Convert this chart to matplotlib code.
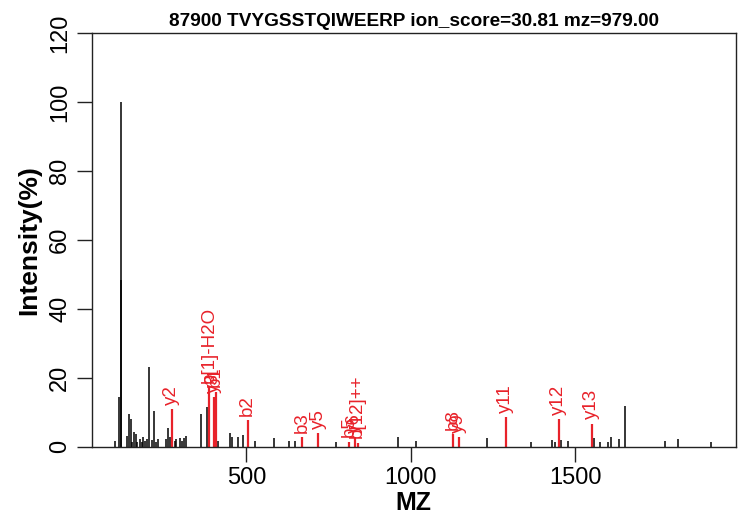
import matplotlib
matplotlib.use("Agg")
import matplotlib.pyplot as plt

plt.rcParams["font.family"] = ["Liberation Sans", "DejaVu Sans"]

TITLE = "87900 TVYGSSTQIWEERP ion_score=30.81 mz=979.00"

# unmatched peaks (m/z, relative intensity %)
other_mz = [101.3, 112.3, 117.5, 119.0, 136.7, 144, 148, 152, 159, 163, 168,
            175, 182, 185, 191, 196, 203, 213, 220, 224, 231, 255, 260.5, 266,
            281, 287, 297, 304, 310, 317.5, 363, 381, 412.7, 449, 457, 474.5,
            488, 527, 584, 630, 649, 773, 961, 1017, 1231, 1365, 1429, 1439,
            1457, 1480, 1557, 1577, 1599.5, 1608, 1633, 1651, 1774, 1812.5, 1915]
other_int = [1.7, 14.3, 100, 48.4, 3.1, 9.5, 7.9, 1.5, 4.4, 3.7, 1.5,
             2.2, 1.5, 2.9, 1.7, 2.2, 23.2, 2.0, 10.5, 1.5, 2.1, 2.3, 5.3, 2.8,
             1.7, 2.2, 2.6, 1.7, 2.6, 3.0, 9.4, 11.4, 1.6, 3.9, 2.9, 2.9,
             3.3, 1.6, 2.6, 1.6, 1.6, 1.5, 2.9, 1.7, 2.4, 1.5, 1.9, 1.5,
             2.0, 1.7, 2.5, 1.5, 1.4, 2.7, 2.2, 11.9, 1.6, 2.2, 1.4]

# matched fragment ions
ion_mz = [273, 387, 401, 406.6, 504, 669, 718, 812, 829.6, 838, 1129, 1146,
          1289, 1451, 1551]
ion_int = [10.9, 17.4, 14.3, 16.0, 7.7, 2.9, 3.9, 1.5, 2.9, 1.2, 3.6, 2.9,
           8.6, 8.1, 6.7]
ion_labels = ["y2", "b[1]-H2O", "y3", "b1", "b2", "b3", "y5", "b5", "y6",
              "b[12]++", "b8", "y9", "y11", "y12", "y13"]

RED = "#e8222a"

fig = plt.figure(figsize=(7.45, 5.3), dpi=100)
ax = fig.add_axes([0.1231, 0.1572, 0.8644, 0.78])

ax.vlines(other_mz, 0, other_int, color="black", lw=1.1)
ax.vlines(ion_mz, 0, ion_int, color=RED, lw=1.6)
for x, y, lab in zip(ion_mz, ion_int, ion_labels):
    ax.annotate(lab, (x, y), xytext=(0, 3), textcoords="offset points",
                rotation=90, ha="center", va="bottom", color=RED,
                fontsize=13.5)

ax.set_xlim(29, 1989)
ax.set_ylim(0, 120)
ax.set_xticks([500, 1000, 1500])
ax.set_yticks(range(0, 121, 20))
ax.set_yticklabels([str(v) for v in range(0, 121, 20)], rotation=90,
                   va="center")
ax.tick_params(axis="both", labelsize=17, length=10.8, width=1.0,
               pad=4, color="#222222")
for s in ax.spines.values():
    s.set_linewidth(1.0)
    s.set_color("#222222")

ax.set_xlabel("MZ", fontsize=18, fontweight="bold", labelpad=1)
ax.set_ylabel("Intensity(%)", fontsize=19, fontweight="bold", labelpad=6)
ax.set_title(TITLE, fontsize=13.7, fontweight="bold", pad=5)

fig.savefig("out.png", dpi=100)
